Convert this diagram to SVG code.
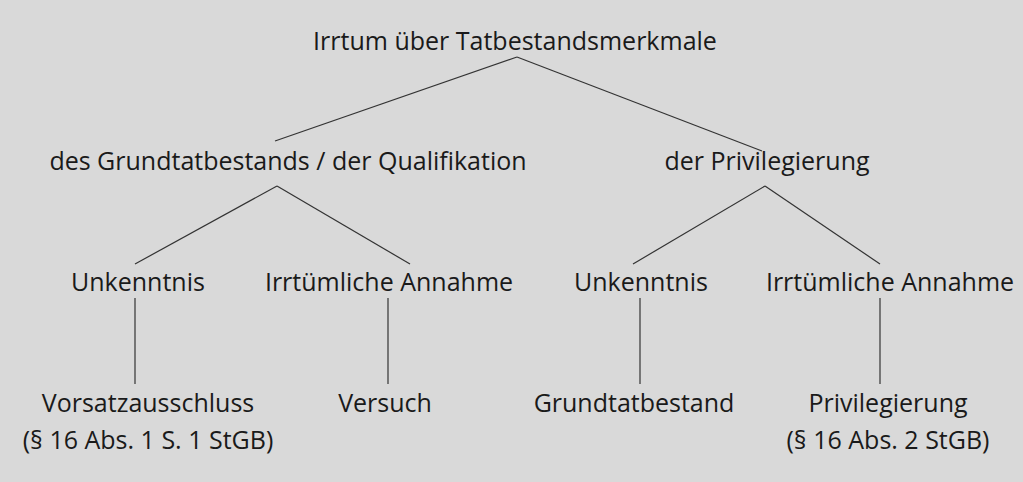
<svg xmlns="http://www.w3.org/2000/svg" width="1023" height="482" viewBox="0 0 1023 482">
<style>
text{font-family:"Open Sans","Noto Sans",sans-serif;font-size:25px;fill:#1a1a1a;text-anchor:middle}
line{stroke:#333;stroke-width:1.2}
</style>
<rect width="1023" height="482" fill="#d9d9d9"/>
<g id="connectors">
<line x1="517" y1="57" x2="275" y2="141"/>
<line x1="517" y1="57" x2="762" y2="151"/>
<line x1="277" y1="186" x2="135" y2="264"/>
<line x1="277" y1="186" x2="410" y2="264"/>
<line x1="765" y1="186" x2="633" y2="264"/>
<line x1="765" y1="186" x2="880" y2="264"/>
<line x1="135" y1="298" x2="135" y2="384"/>
<line x1="388" y1="298" x2="388" y2="384"/>
<line x1="640" y1="298" x2="640" y2="384"/>
<line x1="880" y1="298" x2="880" y2="384"/>
</g>
<g id="root"><text x="515" y="50">Irrtum über Tatbestandsmerkmale</text></g>
<g id="grund"><text x="288" y="170">des Grundtatbestands / der Qualifikation</text></g>
<g id="priv"><text x="767" y="170">der Privilegierung</text></g>
<g id="unk1"><text x="138" y="291">Unkenntnis</text></g>
<g id="irr1"><text x="389" y="291">Irrtümliche Annahme</text></g>
<g id="unk2"><text x="641" y="291">Unkenntnis</text></g>
<g id="irr2"><text x="890" y="291">Irrtümliche Annahme</text></g>
<g id="vorsatz"><text x="148" y="412">Vorsatzausschluss</text><text x="148" y="449">(§ 16 Abs. 1 S. 1 StGB)</text></g>
<g id="versuch"><text x="385" y="412">Versuch</text></g>
<g id="grundtb"><text x="634" y="412">Grundtatbestand</text></g>
<g id="privil"><text x="888" y="412">Privilegierung</text><text x="888" y="449">(§ 16 Abs. 2 StGB)</text></g>
</svg>
